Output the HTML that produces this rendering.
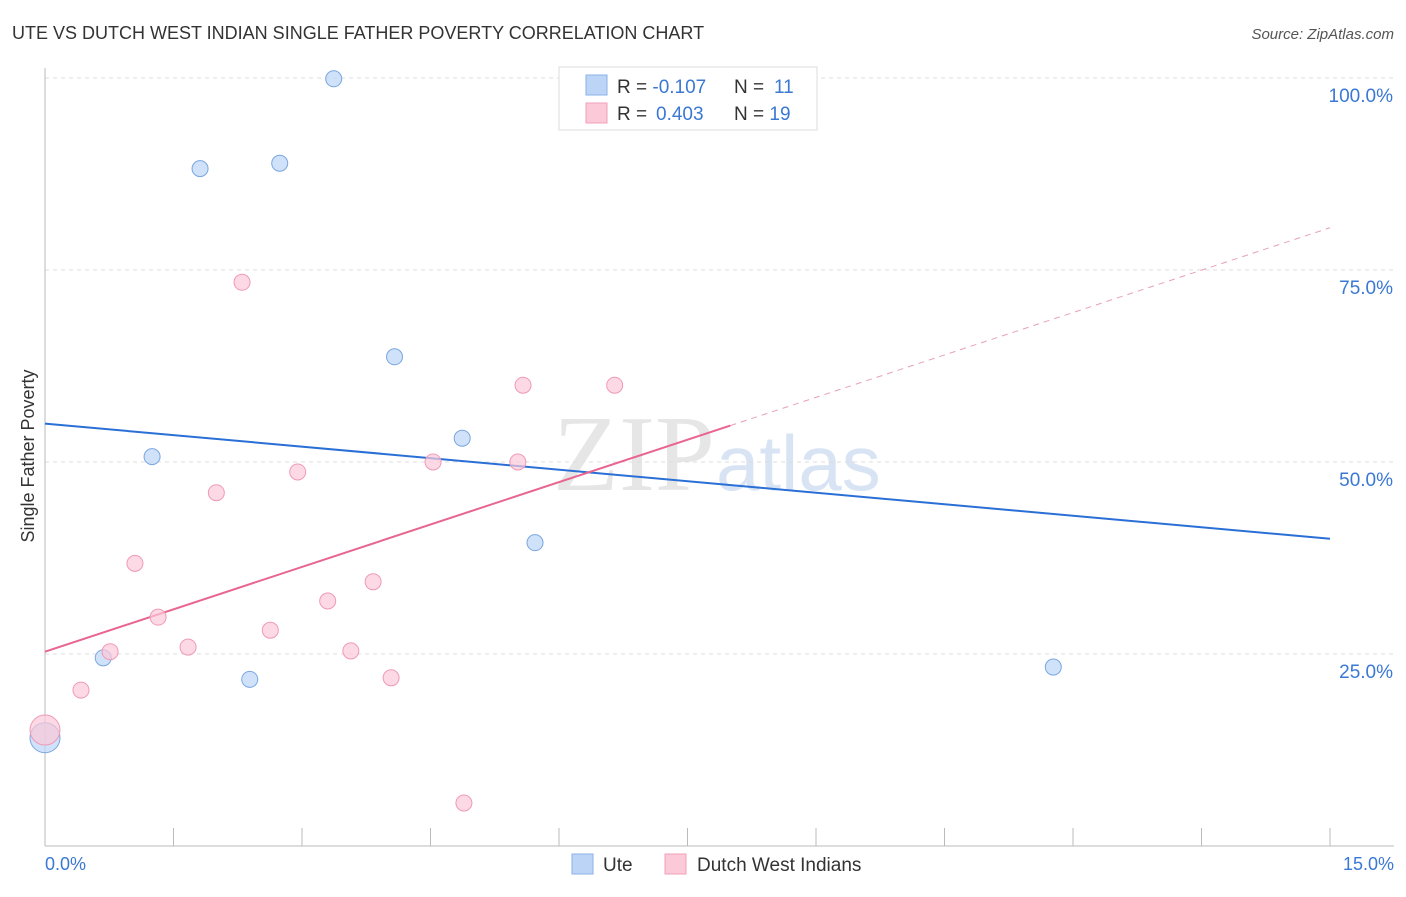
<!DOCTYPE html>
<html><head><meta charset="utf-8"><style>
body{margin:0;background:#fff;font-family:"Liberation Sans",sans-serif;}
</style></head><body>
<svg id="c" width="1406" height="892" xmlns="http://www.w3.org/2000/svg" style="font-family:'Liberation Sans',sans-serif">
<text x="12" y="39" font-size="18" fill="#333">UTE VS DUTCH WEST INDIAN SINGLE FATHER POVERTY CORRELATION CHART</text>
<text x="1394" y="39" font-size="15" fill="#555" font-style="italic" text-anchor="end">Source: ZipAtlas.com</text>
<text x="715" y="490" font-size="108" fill="#e6e6e6" text-anchor="end" font-family="Liberation Serif">ZIP</text>
<text x="716" y="490" font-size="78" fill="#d8e4f4">atlas</text>
<g id="grid"></g><g id="lines"></g><g id="pts"></g>
<text transform="translate(34,456) rotate(-90)" font-size="18" fill="#333" text-anchor="middle">Single Father Poverty</text>
<text x="45" y="870" font-size="18" fill="#3a78d4">0.0%</text>
<text x="1394" y="870" font-size="18" fill="#3a78d4" text-anchor="end">15.0%</text>
<g>
<rect x="559" y="67" width="258" height="63" fill="#fff" stroke="#ddd"/>
<rect x="586" y="75" width="21" height="20" fill="#bcd5f7" stroke="#8ab2e8"/>
<rect x="586" y="103" width="21" height="20" fill="#fbc9d8" stroke="#f2a0b9"/>
<text x="617" y="93" font-size="19" fill="#333">R = <tspan fill="#3a78d4">-0.107</tspan><tspan x="734">N = </tspan><tspan fill="#3a78d4" x="774">11</tspan></text>
<text x="617" y="120" font-size="19" fill="#333">R = <tspan fill="#3a78d4" x="656">0.403</tspan><tspan x="734">N = </tspan><tspan fill="#3a78d4">19</tspan></text>
</g>
<g>
<rect x="572" y="854" width="21" height="20" fill="#bcd5f7" stroke="#8ab2e8"/>
<text x="603" y="871" font-size="19" fill="#333">Ute</text>
<rect x="665" y="854" width="21" height="20" fill="#fbc9d8" stroke="#f2a0b9"/>
<text x="697" y="871" font-size="19" fill="#333">Dutch West Indians</text>
</g>
</svg>
<script>
const yTicks=[25,50,75,100];
const yTickLabels=["25.0%","50.0%","75.0%","100.0%"];
const uteX=[0,0.68,1.25,1.81,2.39,2.74,3.37,4.08,4.87,5.72,11.77];
const uteY=[14.1,24.5,50.7,88.2,21.7,88.9,99.9,63.7,53.1,39.5,23.3];
const dwiX=[0,0.42,0.76,1.05,1.32,1.67,2.0,2.30,2.63,2.95,3.30,3.57,3.83,4.04,4.53,4.89,5.52,5.58,6.65];
const dwiY=[15.1,20.3,25.3,36.8,29.8,25.9,46.0,73.4,28.1,48.7,31.9,25.4,34.4,21.9,50.0,5.6,50.0,60.0,60.0];
const uteTrend=[55.0,40.0];
const dwiTrend=[25.3,80.5];
const dwiSolidEnd=8.0;
const X=v=>45+v/15*1285, Y=v=>846-v/25*192;
const NS="http://www.w3.org/2000/svg";
function mk(p,t,a){const e=document.createElementNS(NS,t);for(const k in a)e.setAttribute(k,a[k]);document.getElementById(p).appendChild(e);return e;}
yTicks.forEach((t,i)=>{
 const l=mk('grid','line',{x1:45,x2:1394,y1:Y(t),y2:Y(t),stroke:'#ddd','stroke-dasharray':'4,4'});
 
 
 const tx=mk('grid','text',{x:1393,y:Y(t)+24,'font-size':19,fill:'#3a78d4','text-anchor':'end'});
 tx.textContent=yTickLabels[i];
 
 
});
let ax=mk('grid','line',{x1:45,x2:1394,y1:846,y2:846,stroke:'#bbb'});


ax=mk('grid','line',{x1:45,x2:45,y1:68,y2:846,stroke:'#bbb'});


for(let i=0;i<=10;i++){const t=mk('grid','line',{x1:X(i*1.5),x2:X(i*1.5),y1:828,y2:846,stroke:'#bbb'});
 
 }
function pts(xs,ys,fill,stroke,name){xs.forEach((x,i)=>{const c=mk('pts','circle',{cx:X(x),cy:Y(ys[i]),r:x===0?15:8,fill:fill,'fill-opacity':0.7,stroke:stroke,'stroke-width':1});
 
 });}
pts(uteX,uteY,'#bcd5f7','#7aa6e0','ute-point');
pts(dwiX,dwiY,'#fbc9d8','#f09ab5','dwi-point');
let tl=mk('lines','line',{x1:X(0),y1:Y(uteTrend[0]),x2:X(15),y2:Y(uteTrend[1]),stroke:'#2a6fd6','stroke-width':2});


const dy=v=>dwiTrend[0]+(dwiTrend[1]-dwiTrend[0])*v/15;
tl=mk('lines','line',{x1:X(0),y1:Y(dwiTrend[0]),x2:X(dwiSolidEnd),y2:Y(dy(dwiSolidEnd)),stroke:'#e8658f','stroke-width':2});


tl=mk('lines','line',{x1:X(dwiSolidEnd),y1:Y(dy(dwiSolidEnd)),x2:X(15),y2:Y(dwiTrend[1]),stroke:'#e8a0b8','stroke-width':1,'stroke-dasharray':'6,5'});


</script>
</body></html>
